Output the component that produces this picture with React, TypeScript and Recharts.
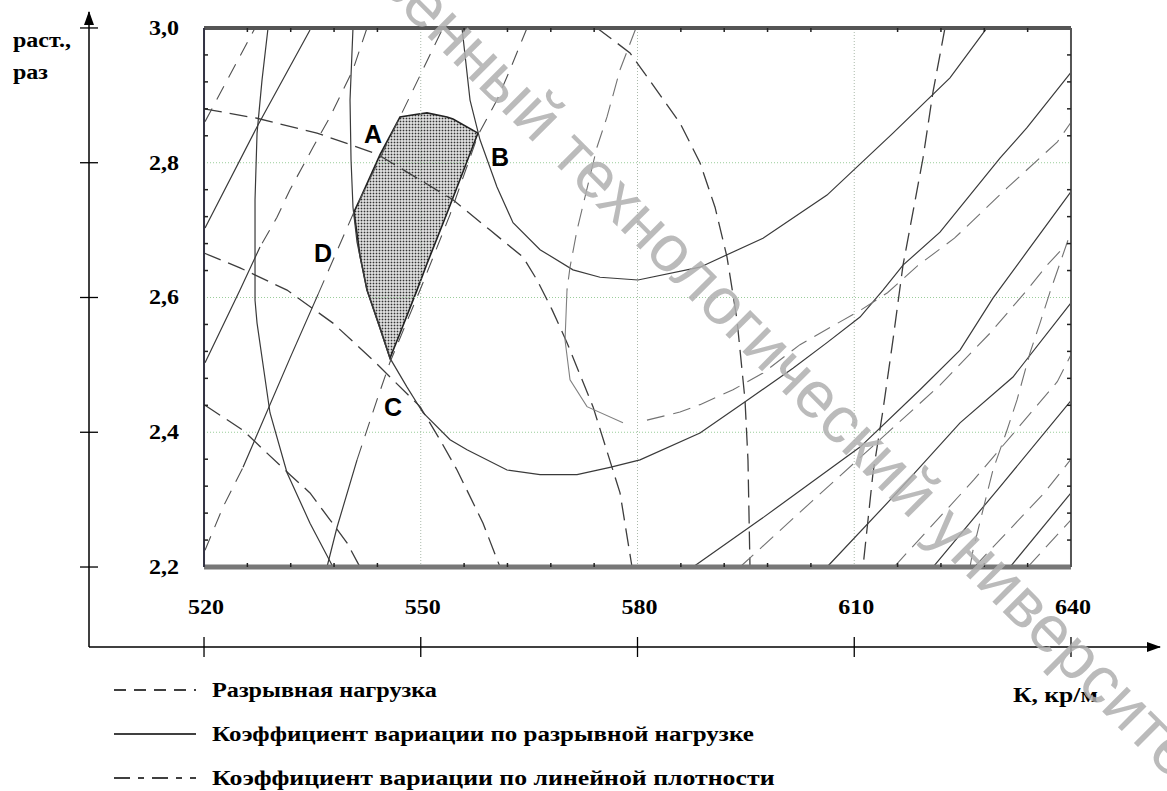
import React from "react";
import {
  ComposedChart,
  Line,
  Area,
  XAxis,
  YAxis,
  ReferenceLine,
  ReferenceDot,
} from "recharts";

// axis ticks
const xTicks = [520, 550, 580, 610, 640];
const yTicks = [2.2, 2.4, 2.6, 2.8, 3.0];
const minorX = [526, 532, 538, 544, 556, 562, 568, 574, 586, 592, 598, 604, 616, 622, 628, 634];
const minorY = [2.24, 2.28, 2.32, 2.36, 2.44, 2.48, 2.52, 2.56, 2.64, 2.68, 2.72, 2.76, 2.84, 2.88, 2.92, 2.96];

// Разрывная нагрузка (dashed)
const breakLoad1 = [[520, 2.88], [527.34, 2.866], [535.64, 2.844], [543.94, 2.813], [554.46, 2.745], [559.59, 2.7], [564.15, 2.66], [566.09, 2.626], [568.17, 2.582], [570.24, 2.533], [573.84, 2.438], [577.58, 2.31], [579.24, 2.2]];
const breakLoad2 = [[520, 2.666], [524.98, 2.644], [531.49, 2.611], [537.85, 2.562], [543.39, 2.507], [549.9, 2.438], [552.66, 2.389], [555.02, 2.344], [558.62, 2.265], [560.97, 2.2]];
const breakLoad3 = [[520.14, 2.44], [525.4, 2.403], [528.72, 2.369], [531.9, 2.337], [534.67, 2.31], [537.44, 2.27], [539.79, 2.236], [541.59, 2.2]];
const breakLoad4 = [[574.39, 3.0], [578.96, 2.963], [585.88, 2.859], [588.65, 2.8], [590.73, 2.734], [592.39, 2.66], [593.77, 2.567], [594.88, 2.448], [595.29, 2.359], [595.57, 2.2]];
const breakLoad5 = [[622.56, 3.0], [620.9, 2.905], [619.52, 2.807], [618.13, 2.727], [616.75, 2.648], [615.36, 2.537], [613.98, 2.433], [612.6, 2.34], [611.21, 2.2]];

// Коэффициент вариации по разрывной нагрузке (solid)
const cvLoad1 = [[528.86, 3.0], [528.03, 2.923], [527.34, 2.844], [527.06, 2.745], [527.06, 2.596], [527.34, 2.562], [529.13, 2.429], [531.49, 2.34], [534.67, 2.265], [537.85, 2.2]];
const cvLoad2 = [[540.62, 3.0], [540.21, 2.893], [540.35, 2.804], [540.62, 2.734], [541.18, 2.682], [542.56, 2.611], [545.74, 2.51], [548.1, 2.467], [550.31, 2.429], [554.05, 2.389], [556.4, 2.374], [561.94, 2.344], [566.51, 2.337], [571.63, 2.337], [576.19, 2.348], [580.35, 2.359], [588.65, 2.399], [594.6, 2.443], [601.52, 2.495], [606.23, 2.533], [610.8, 2.571], [613.98, 2.611], [616.75, 2.648], [621.87, 2.697], [630.17, 2.807], [633.91, 2.852], [640, 2.934]];
const cvLoad3 = [[555.71, 3.0], [556.82, 2.893], [558.2, 2.834], [560.55, 2.764], [562.77, 2.711], [566.51, 2.671], [571.07, 2.641], [574.81, 2.63], [580.07, 2.626], [588.65, 2.645], [597.37, 2.688], [606.23, 2.752], [615.36, 2.844], [623.25, 2.926], [628.37, 3.0]];
const cvLoad4 = [[587.68, 2.2], [596.95, 2.27], [610.8, 2.378], [619.1, 2.463], [624.64, 2.522], [629.2, 2.599], [633.91, 2.668], [640, 2.757]];
const cvLoad5 = [[606.23, 2.2], [615.36, 2.304], [624.64, 2.414], [631.97, 2.482], [640, 2.592]];
const cvLoad6 = [[620.9, 2.2], [630.17, 2.319], [640, 2.447]];
const cvLoad7 = [[631.56, 2.2], [640, 2.31]];
const cvLoad8 = [[520.14, 2.703], [527.47, 2.856], [534.67, 2.997]];
const cvLoad9 = [[520.14, 2.503], [524.98, 2.611], [527.75, 2.675]];
const cvLoad10 = [[525.4, 2.348], [531.9, 2.51], [535.8, 2.605]];
const cvLoad11 = [[537.02, 2.2], [538.41, 2.259], [541.18, 2.359]];

// Коэффициент вариации по линейной плотности (dash-dot)
const cvLin1 = [[520.14, 2.861], [527.06, 3.0]];
const cvLin2 = [[542.56, 3.0], [540.62, 2.938], [537.44, 2.868], [535.09, 2.823], [531.9, 2.76], [530.1, 2.719], [527.75, 2.675]];
const cvLin3 = [[520.14, 2.225], [522.63, 2.289], [525.4, 2.348]];
const cvLin4 = [[535.8, 2.605], [540.76, 2.727], [547.13, 2.868], [553.08, 3.0]];
const cvLin5 = [[541.18, 2.359], [543.94, 2.448], [545.74, 2.504], [549.9, 2.611], [554.05, 2.723], [557.92, 2.841], [560.55, 2.893], [562.35, 2.938], [564.71, 3.0]];
const cvLin6a = [[579.79, 3.0], [577.58, 2.938], [575.78, 2.868], [574.39, 2.823], [571.63, 2.7], [570.66, 2.645], [570.24, 2.611]];
const cvLin6b = [[570.24, 2.611], [569.97, 2.537], [570.66, 2.478], [573.01, 2.438], [577.99, 2.414]];
const cvLin6c = [[581.31, 2.418], [585.88, 2.43], [588.65, 2.441], [593.22, 2.463], [597.37, 2.488], [602.49, 2.53], [611.0, 2.582], [614.6, 2.607], [618.75, 2.647], [623.87, 2.688], [631.2, 2.763], [638.12, 2.831], [640, 2.86]];
const cvLin7 = [[639.58, 2.685], [637.09, 2.608], [635.71, 2.562], [634.33, 2.518], [632.53, 2.448], [631.14, 2.403], [629.2, 2.344], [627.82, 2.285], [626.44, 2.225], [626.02, 2.2]];
const cvLin8 = [[594.19, 2.2], [604.29, 2.299], [613.56, 2.389], [621.87, 2.47], [628.79, 2.547], [633.91, 2.611], [636.68, 2.648], [639.58, 2.681]];
const cvLin9 = [[615.5, 2.2], [626.6, 2.33], [638.1, 2.475], [640, 2.515]];
const cvLin10 = [[626.6, 2.2], [636.3, 2.31], [640, 2.36]];
const cvLin11 = [[634.0, 2.2], [640, 2.27]];

// shaded feasible region ABCD
const shadeX = [540.76, 541.59, 542.56, 544.36, 545.74, 547.13, 549.48, 550.86, 553.63, 554.46, 557.92];
const shadeTop = [2.727, 2.746, 2.769, 2.812, 2.84, 2.868, 2.872, 2.874, 2.868, 2.865, 2.844];
const shadeBottom = [2.727, 2.662, 2.611, 2.555, 2.51, 2.547, 2.611, 2.65, 2.725, 2.748, 2.844];

const pointNames = ["A", "B", "C", "D"];
const pointX = [543.39, 560.97, 546.16, 536.47];
const pointY = [2.843, 2.809, 2.437, 2.666];

const toRows = (pts: number[][]) => pts.map(([x, y]) => ({ x, y }));

const dashedSeries = [breakLoad1, breakLoad2, breakLoad3, breakLoad4, breakLoad5];
const solidSeries = [cvLoad1, cvLoad2, cvLoad3, cvLoad4, cvLoad5, cvLoad6, cvLoad7, cvLoad8, cvLoad9, cvLoad10, cvLoad11];
const dashDotLeft = [cvLin1, cvLin2, cvLin3, cvLin4, cvLin5];
const dashDotRight = [cvLin6a, cvLin6c, cvLin7, cvLin8, cvLin9, cvLin10, cvLin11];

const serif = "'Liberation Serif', 'Times New Roman', serif";
const fmt = (v: number) => v.toFixed(1).replace(".", ",");

const YTick = (props: any) => {
  const { x, y, payload } = props;
  return (
    <g>
      <line x1={x - 9} x2={x + 9} y1={y} y2={y} stroke="#000" strokeWidth={1.3} />
      <text
        transform={`translate(${x + 90},${y + 7}) scale(1.2,1)`}
        textAnchor="end"
        fontFamily={serif}
        fontWeight="bold"
        fontSize={20}
        fill="#000"
      >
        {fmt(payload.value)}
      </text>
    </g>
  );
};

const XTick = (props: any) => {
  const { x, y, payload } = props;
  return (
    <g>
      <line x1={x} x2={x} y1={y - 10} y2={y + 10} stroke="#000" strokeWidth={1.3} />
      <text
        transform={`translate(${x + 2},${y - 33}) scale(1.2,1)`}
        textAnchor="middle"
        fontFamily={serif}
        fontWeight="bold"
        fontSize={20}
        fill="#000"
      >
        {payload.value}
      </text>
    </g>
  );
};

const legendRows = [
  { label: "Разрывная нагрузка", dash: "12 8", sx: 1.21 },
  { label: "Коэффициент вариации по разрывной нагрузке", dash: "", sx: 1.25 },
  { label: "Коэффициент вариации по линейной плотности", dash: "16 8 6 8", sx: 1.29 },
];

export default function App() {
  const tx = 0.55;
  const ty = 0.006;
  return (
    <div style={{ position: "absolute", left: 0, top: 0, width: 1167, height: 791, background: "#fff", overflow: "hidden" }}>
      <ComposedChart width={1167} height={791} margin={{ top: 12, right: 7, bottom: 114, left: 29 }}>
        <defs>
          <pattern id="dots" width="3" height="3" patternUnits="userSpaceOnUse">
            <rect width="3" height="3" fill="#fafafa" />
            <rect x="0.6" y="0.6" width="1.8" height="1.8" fill="#333" />
          </pattern>
          <marker id="arrowHead" viewBox="0 0 14 10" refX="13" refY="5" markerWidth="14" markerHeight="10" markerUnits="userSpaceOnUse" orient="auto-start-reverse">
            <path d="M0,0 L14,5 L0,10 Z" fill="#000" />
          </marker>
        </defs>
        <XAxis
          xAxisId={0}
          type="number"
          dataKey="x"
          domain={[504.08, 652.32]}
          allowDataOverflow
          ticks={xTicks}
          interval={0}
          height={30}
          tickSize={0}
          tickMargin={0}
          tickLine={false}
          tick={<XTick />}
          axisLine={{ stroke: "#000", strokeWidth: 1.5, markerEnd: "url(#arrowHead)" } as any}
        />
        <YAxis
          yAxisId={0}
          type="number"
          domain={[2.0813, 3.0237]}
          allowDataOverflow
          ticks={yTicks}
          interval={0}
          width={60}
          tickSize={0}
          tickMargin={0}
          tickLine={false}
          tick={<YTick />}
          axisLine={{ stroke: "#000", strokeWidth: 1.5, markerStart: "url(#arrowHead)" } as any}
        />

        {/* dotted grid inside the box */}
        {[550, 580, 610].map((v) => (
          <ReferenceLine key={`gx${v}`} segment={[{ x: v, y: 2.2 }, { x: v, y: 3.0 }]} stroke="#a9b8a9" strokeDasharray="1 2" />
        ))}
        {[2.4, 2.6, 2.8].map((v) => (
          <ReferenceLine key={`gy${v}`} segment={[{ x: 520, y: v }, { x: 640, y: v }]} stroke="#9c9" strokeDasharray="1 2" />
        ))}

        <Area
          data={shadeX.map((x, i) => ({ x, range: [shadeBottom[i], shadeTop[i]] }))}
          dataKey="range"
          type="linear"
          fill="url(#dots)"
          fillOpacity={1}
          stroke="#222"
          strokeWidth={1.6}
          isAnimationActive={false}
          dot={false}
          activeDot={false}
        />

        {dashedSeries.map((s, i) => (
          <Line key={`d${i}`} data={toRows(s)} dataKey="y" type="linear" stroke="#3d3d3d" strokeWidth={1.3} strokeDasharray="18 8" dot={false} activeDot={false} isAnimationActive={false} />
        ))}
        {solidSeries.map((s, i) => (
          <Line key={`s${i}`} data={toRows(s)} dataKey="y" type="linear" stroke="#3a3a3a" strokeWidth={1.2} dot={false} activeDot={false} isAnimationActive={false} />
        ))}
        {dashDotLeft.map((s, i) => (
          <Line key={`l${i}`} data={toRows(s)} dataKey="y" type="linear" stroke="#505050" strokeWidth={1.1} strokeDasharray="15 10" dot={false} activeDot={false} isAnimationActive={false} />
        ))}
        {dashDotRight.map((s, i) => (
          <Line key={`r${i}`} data={toRows(s)} dataKey="y" type="linear" stroke="#727272" strokeWidth={1.1} strokeDasharray="18 9" dot={false} activeDot={false} isAnimationActive={false} />
        ))}
        <Line data={toRows(cvLin6b)} dataKey="y" type="linear" stroke="#808080" strokeWidth={1.1} dot={false} activeDot={false} isAnimationActive={false} />

        {/* inner frame */}
        <ReferenceLine segment={[{ x: 520, y: 3.0 }, { x: 640, y: 3.0 }]} stroke="#555" strokeWidth={4} />
        <ReferenceLine segment={[{ x: 520, y: 2.2 }, { x: 640, y: 2.2 }]} stroke="#777" strokeWidth={5} />
        <ReferenceLine segment={[{ x: 520, y: 2.2 }, { x: 520, y: 3.0 }]} stroke="#334" strokeWidth={2} />
        <ReferenceLine segment={[{ x: 640, y: 2.2 }, { x: 640, y: 3.0 }]} stroke="#555" strokeWidth={2} />
        {minorX.map((v) => (
          <ReferenceLine key={`mt${v}`} segment={[{ x: v, y: 3.0 }, { x: v, y: 3.0 - ty }]} stroke="#222" strokeWidth={1.5} />
        ))}
        {minorX.map((v) => (
          <ReferenceLine key={`mb${v}`} segment={[{ x: v, y: 2.2 }, { x: v, y: 2.2 + ty }]} stroke="#222" strokeWidth={1.5} />
        ))}
        {minorY.map((v) => (
          <ReferenceLine key={`ml${v}`} segment={[{ x: 520, y: v }, { x: 520 + tx, y: v }]} stroke="#222" strokeWidth={1.5} />
        ))}
        {minorY.map((v) => (
          <ReferenceLine key={`mr${v}`} segment={[{ x: 640, y: v }, { x: 640 - tx, y: v }]} stroke="#222" strokeWidth={1.5} />
        ))}

        {pointNames.map((n, i) => (
          <ReferenceDot
            key={n}
            x={pointX[i]}
            y={pointY[i]}
            r={1}
            fill="none"
            stroke="none"
            label={{ value: n, position: "center", fill: "#000", fontSize: 25, fontWeight: 700, fontFamily: "'Liberation Sans', Arial, sans-serif" }}
          />
        ))}
      </ComposedChart>

      {/* axis titles */}
      <div style={{ position: "absolute", left: 13, top: 24, fontFamily: serif, fontWeight: "bold", fontSize: 20, lineHeight: "32px", color: "#000", transform: "scaleX(1.2)", transformOrigin: "0 0" }}>
        раст.,
        <br />
        раз
      </div>
      <div style={{ position: "absolute", left: 1013, top: 684, fontFamily: serif, fontWeight: "bold", fontSize: 20, color: "#000", transform: "scaleX(1.28)", transformOrigin: "0 0", whiteSpace: "nowrap" }}>
        К, кр/м
      </div>

      {/* legend */}
      {legendRows.map((r, i) => (
        <div key={r.label} style={{ position: "absolute", left: 112, top: 676 + i * 44, height: 28, display: "flex", alignItems: "center" }}>
          <svg width={86} height={10}>
            <line x1={2} x2={84} y1={5} y2={5} stroke="#000" strokeWidth={1.3} strokeDasharray={r.dash || undefined} />
          </svg>
          <span style={{ marginLeft: 14, fontFamily: serif, fontWeight: "bold", fontSize: 20, color: "#000", whiteSpace: "nowrap", display: "inline-block", transform: `scaleX(${r.sx})`, transformOrigin: "0 50%" }}>
            {r.label}
          </span>
        </div>
      ))}

      {/* watermark */}
      <div
        style={{
          position: "absolute",
          left: 203,
          top: -267,
          fontFamily: "'Liberation Sans', Arial, sans-serif",
          fontSize: 66,
          lineHeight: 1,
          color: "rgba(175,175,175,0.85)",
          whiteSpace: "nowrap",
          transform: "rotate(45deg)",
          transformOrigin: "0 0",
          pointerEvents: "none",
        }}
      >
        государственный технологический университет
      </div>
    </div>
  );
}
